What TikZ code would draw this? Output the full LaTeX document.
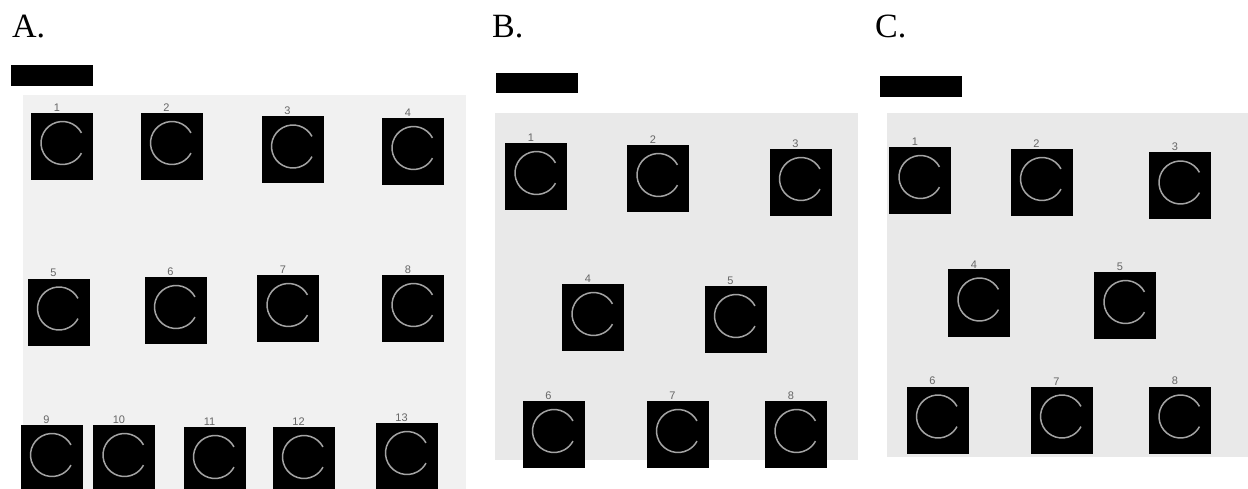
\documentclass[tikz,border=0pt]{standalone}
\usepackage{fontspec}
\setmainfont{Liberation Serif}
\setsansfont{Liberation Sans}
\usepackage{xcolor}
\usetikzlibrary{positioning}

\definecolor{panelA}{gray}{0.945}
\definecolor{panelB}{gray}{0.915}
\definecolor{ringgray}{gray}{0.64}

\tikzset{
  cell/.style={draw=none, fill=black, minimum width=62pt, minimum height=67pt, inner sep=0pt,
    path picture={\draw[ringgray, line width=1.5pt]
      ([shift={(0.5pt,3.5pt)}]path picture bounding box.center) ++(28:21.5pt) arc (28:332:21.5pt);},
    label={[numlab]above:#1}},
  numlab/.style={font=\sffamily\fontsize{11}{11}\selectfont, text=black!60, inner sep=1pt, label distance=0pt, xshift=-5pt},
  head/.style={font=\fontsize{34}{34}\selectfont, inner sep=0pt, anchor=base west},
  bar/.style={fill=black}
}

\begin{document}
\begin{tikzpicture}[x=1pt, y=-1pt]
  \useasboundingbox (0,0) rectangle (1248,489);

  % Panels
  \fill[panelA] (23,95) rectangle (466,489);
  \fill[panelB] (495,113) rectangle (858,460);
  \fill[panelB] (887,113) rectangle (1248,457);

  % Headings and bars
  \node (hA) [head] at (12,38) {A.};
  \node (hB) [head] at (492,38) {B.};
  \node (hC) [head] at (875,38) {C.};
  \fill[bar] (11,65) rectangle (93,86);
  \fill[bar] (496,73) rectangle (578,93);
  \fill[bar] (880,76) rectangle (962,97);

  % Panel A
  \node (a1) [cell=1] at (62,146.5) {};
  \node (a2) [cell=2] at (171.5,146.5) {};
  \node (a3) [cell=3] at (292.5,150) {};
  \node (a4) [cell=4] at (413,151.5) {};

  \node (a5) [cell=5] at (58.5,312) {};
  \node (a6) [cell=6] at (175.5,310.5) {};
  \node (a7) [cell=7] at (288,308.5) {};
  \node (a8) [cell=8] at (413,308.5) {};

  \node (a9) [cell=9] at (51.5,458.5) {};
  \node (a10) [cell=10] at (124,458.5) {};
  \node (a11) [cell=11] at (214.5,460.5) {};
  \node (a12) [cell=12] at (303.5,460.5) {};
  \node (a13) [cell=13] at (406.5,456.5) {};

  % Panel B
  \node (b1) [cell=1] at (536,176.5) {};
  \node (b2) [cell=2] at (658,178.5) {};
  \node (b3) [cell=3] at (800.5,182.5) {};
  \node (b4) [cell=4] at (593,317.5) {};
  \node (b5) [cell=5] at (735.5,319.5) {};
  \node (b6) [cell=6] at (553.5,434.5) {};
  \node (b7) [cell=7] at (677.5,434.5) {};
  \node (b8) [cell=8] at (796,434.5) {};

  % Panel C
  \node (c1) [cell=1] at (920,180.5) {};
  \node (c2) [cell=2] at (1041.5,182.5) {};
  \node (c3) [cell=3] at (1180,186) {};
  \node (c4) [cell=4] at (979,303) {};
  \node (c5) [cell=5] at (1125,305.5) {};
  \node (c6) [cell=6] at (937.5,420) {};
  \node (c7) [cell=7] at (1061.5,420) {};
  \node (c8) [cell=8] at (1180,420) {};

\end{tikzpicture}
\end{document}
